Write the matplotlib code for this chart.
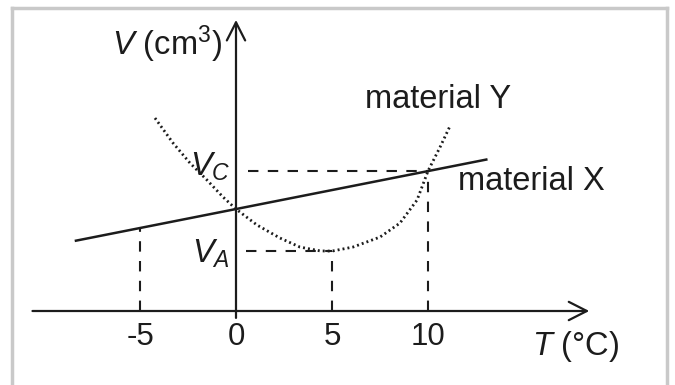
import numpy as np
import matplotlib
matplotlib.use("Agg")
import matplotlib.pyplot as plt
from matplotlib.lines import Line2D

plt.rcParams['font.family'] = ['Liberation Sans', 'DejaVu Sans']
plt.rcParams['mathtext.fontset'] = 'custom'
plt.rcParams['mathtext.rm'] = 'Liberation Sans'
plt.rcParams['mathtext.it'] = 'Liberation Sans:italic'

# material X (straight line)
x_T = [-8.4, 13.1]
x_V = [3.65, 7.9]

# material Y (dotted curve)
y_T = [-4.22, -3.28, -2.40, -1.51, -0.68, 0.0, 1.09, 2.29, 3.33, 4.38, 5.0,
       6.09, 7.5, 8.54, 9.43, 10.0, 10.63, 11.15]
y_V = [10.05, 8.75, 7.71, 6.82, 5.94, 5.31, 4.48, 3.80, 3.33, 3.13, 3.12,
       3.33, 3.85, 4.58, 5.78, 7.29, 8.54, 9.64]

ticks = [-5, 0, 5, 10]
tick_labels = ['-5', '0', '5', '10']

# guide lines
drop_T = [-5, 5, 10]
drop_V = [4.3, 3.12, 7.3]
V_C = 7.3
V_A = 3.12

ink = '#1c1c1c'
fig = plt.figure(figsize=(6.75, 3.85), dpi=100)
ax = fig.add_axes([0, 0, 1, 1])
ax.set_xlim(-236 / 19.2, 439 / 19.2)
ax.set_ylim(-74 / 19.2, 311 / 19.2)
ax.axis('off')

# grey frame (open at the bottom)
fc = '#c9c9c9'
for xs, ys in [([12, 12], [0, 377]), ([12, 667], [377, 377]), ([667, 667], [377, 0])]:
    fig.add_artist(Line2D(np.array(xs) / 675, np.array(ys) / 385, color=fc, lw=2.5))

# axes with arrows
arr = dict(arrowstyle='->,head_length=0.65,head_width=0.33', color=ink, lw=1.6,
           mutation_scale=20, shrinkA=0, shrinkB=0)
ax.annotate('', xy=(18.4, 0), xytext=(-10.6, 0), arrowprops=arr)
ax.annotate('', xy=(0, 15.16), xytext=(0, -0.36), arrowprops=arr)

# dashed guides
dash = dict(color=ink, lw=1.5, dashes=(5, 4.5))
for t, v in zip(drop_T, drop_V):
    ax.plot([t, t], [0, v], **dash)
ax.plot([0.6, 10], [V_C, V_C], **dash)
ax.plot([0.5, 5], [V_A, V_A], **dash)

# material lines
ax.plot(x_T, x_V, color=ink, lw=1.8, solid_capstyle='butt')
ax.plot(y_T, y_V, color=ink, lw=2.0, linestyle=(0, (0.7, 1.1)))

fs = 23.5
for t, lab in zip(ticks, tick_labels):
    ax.text(t, -1.35, lab, ha='center', va='center', fontsize=22.5, color=ink)

ax.text(-3.6, 13.9, r'$V$ (cm$^3$)', ha='center', va='center', fontsize=fs, color=ink)
ax.text(17.7, -1.85, r'$T$ ($\degree$C)', ha='center', va='center', fontsize=fs, color=ink)
ax.text(-0.3, 7.5, r'$V_C$', ha='right', va='center', fontsize=fs, color=ink)
ax.text(-0.3, 3.0, r'$V_A$', ha='right', va='center', fontsize=fs, color=ink)
ax.text(10.5, 11.0, 'material Y', ha='center', va='center', fontsize=fs, color=ink)
ax.text(15.4, 6.75, 'material X', ha='center', va='center', fontsize=fs, color=ink)

fig.savefig('out.png', dpi=100)
